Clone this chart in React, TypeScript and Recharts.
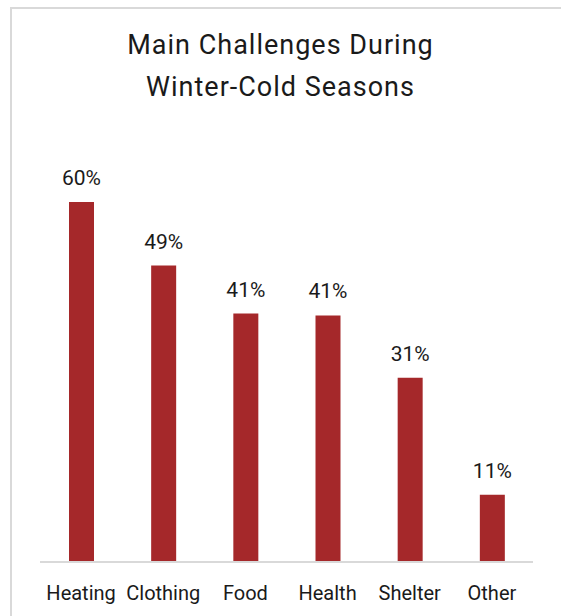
import { BarChart, Bar, XAxis, YAxis, LabelList } from 'recharts';

const categories = ['Heating', 'Clothing', 'Food', 'Health', 'Shelter', 'Other'];
const shares = [60, 49.4, 41.4, 41.1, 30.7, 11.2];

const data = categories.map((name, i) => ({ name, value: shares[i] }));

const FONT = 'Roboto, "Open Sans", sans-serif';

export default function App() {
  return (
    <div style={{ position: 'fixed', left: 0, top: 0, width: 561, height: 616, overflow: 'hidden', background: '#fff' }}>
      {/* frame, clipped at right and bottom */}
      <div
        style={{
          position: 'absolute',
          left: 10,
          top: 7,
          width: 600,
          height: 700,
          borderTop: '2px solid #d9d9d9',
          borderLeft: '2px solid #d9d9d9',
        }}
      />
      <div
        style={{
          position: 'absolute',
          left: 0,
          top: 24,
          width: 561,
          textAlign: 'center',
          fontFamily: FONT,
          fontSize: 27,
          letterSpacing: 1,
          lineHeight: '42px',
          color: '#1a1a1a',
        }}
      >
        <div>Main Challenges During</div>
        <div>Winter-Cold Seasons</div>
      </div>
      <div style={{ position: 'absolute', left: 0, top: 0 }}>
        <BarChart
          width={561}
          height={616}
          data={data}
          margin={{ top: 202, right: 28, left: 40, bottom: 24 }}
          barCategoryGap={0}
        >
          <XAxis
            dataKey="name"
            height={30}
            tickLine={false}
            axisLine={{ stroke: '#d9d9d9', strokeWidth: 2 }}
            tickMargin={18}
            interval={0}
            tick={{ fill: '#1a1a1a', fontSize: 20, fontFamily: FONT }}
          />
          <YAxis hide domain={[0, 60]} />
          <Bar dataKey="value" fill="#a5282a" barSize={25} isAnimationActive={false}>
            <LabelList
              dataKey="value"
              position="top"
              offset={17}
              formatter={(v: number) => `${Math.round(v)}%`}
              style={{ fill: '#1a1a1a', fontSize: 21, fontFamily: FONT }}
            />
          </Bar>
        </BarChart>
      </div>
    </div>
  );
}
